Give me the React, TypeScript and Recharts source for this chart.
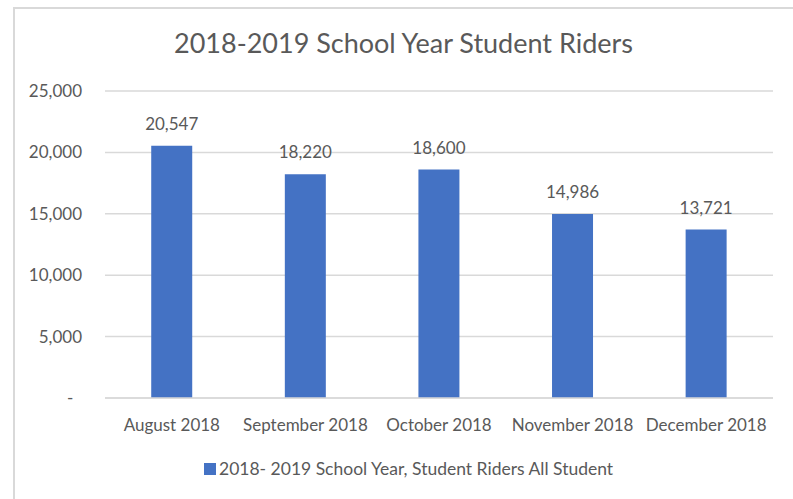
import React from 'react';
import {
  BarChart,
  Bar,
  XAxis,
  YAxis,
  CartesianGrid,
  Legend,
  LabelList,
} from 'recharts';

const months = ['August 2018', 'September 2018', 'October 2018', 'November 2018', 'December 2018'];
const riders = [20547, 18220, 18600, 14986, 13721];
const yTicks = [0, 5000, 10000, 15000, 20000, 25000];
const seriesName = '2018- 2019 School Year, Student Riders All Student';

const data = months.map((m, i) => ({ month: m, value: riders[i] }));

const FONT = 'Lato, "Open Sans", sans-serif';
const TEXT = '#595959';
const GRID = '#d9d9d9';
const BLUE = '#4472C4';

const fmtY = (v: number) => (v === 0 ? '-\u00a0\u00a0' : v.toLocaleString('en-US'));

function LegendBox() {
  return (
    <div style={{ display: 'flex', alignItems: 'center', paddingLeft: 204, fontFamily: FONT, fontSize: 17.5, color: TEXT }}>
      <span style={{ width: 12, height: 12, background: BLUE, display: 'inline-block', marginRight: 3 }} />
      <span>{seriesName}</span>
    </div>
  );
}

export default function App() {
  return (
    <div style={{ position: 'absolute', left: 0, top: 0, width: 793, height: 499, background: '#fff', overflow: 'hidden' }}>
      <div
        style={{
          position: 'absolute',
          left: 13,
          top: 7,
          right: -10,
          bottom: -10,
          borderLeft: `2px solid ${GRID}`,
          borderTop: `2px solid ${GRID}`,
        }}
      />
      <div
        style={{
          position: 'absolute',
          left: 0,
          top: 29,
          width: 807,
          textAlign: 'center',
          fontFamily: FONT,
          fontSize: 27,
          lineHeight: 1,
          color: TEXT,
        }}
      >
        2018-2019 School Year Student Riders
      </div>
      <div style={{ position: 'absolute', left: 0, top: 0 }}>
        <BarChart width={793} height={499} data={data} margin={{ top: 91, right: 20, bottom: 40, left: 0 }} barCategoryGap="34.6%">
          <CartesianGrid vertical={false} stroke={GRID} strokeWidth={1.5} />
          <XAxis
            dataKey="month"
            height={40}
            tickLine={false}
            axisLine={{ stroke: GRID, strokeWidth: 1.5 }}
            tickMargin={15}
            interval={0}
            tick={{ fill: TEXT, fontSize: 17, fontFamily: FONT }}
          />
          <YAxis
            width={105}
            domain={[0, 25000]}
            ticks={yTicks}
            tickFormatter={fmtY}
            tickLine={false}
            axisLine={false}
            tickMargin={17}
            tick={{ fill: TEXT, fontSize: 17, fontFamily: FONT }}
          />
          <Legend content={<LegendBox />} wrapperStyle={{ position: 'absolute', top: 458, left: 0, width: 793 }} />
          <Bar dataKey="value" name={seriesName} fill={BLUE} isAnimationActive={false}>
            <LabelList
              dataKey="value"
              position="top"
              offset={16}
              formatter={(v: number) => Number(v).toLocaleString('en-US')}
              style={{ fill: TEXT, fontSize: 17, fontFamily: FONT }}
            />
          </Bar>
        </BarChart>
      </div>
    </div>
  );
}
